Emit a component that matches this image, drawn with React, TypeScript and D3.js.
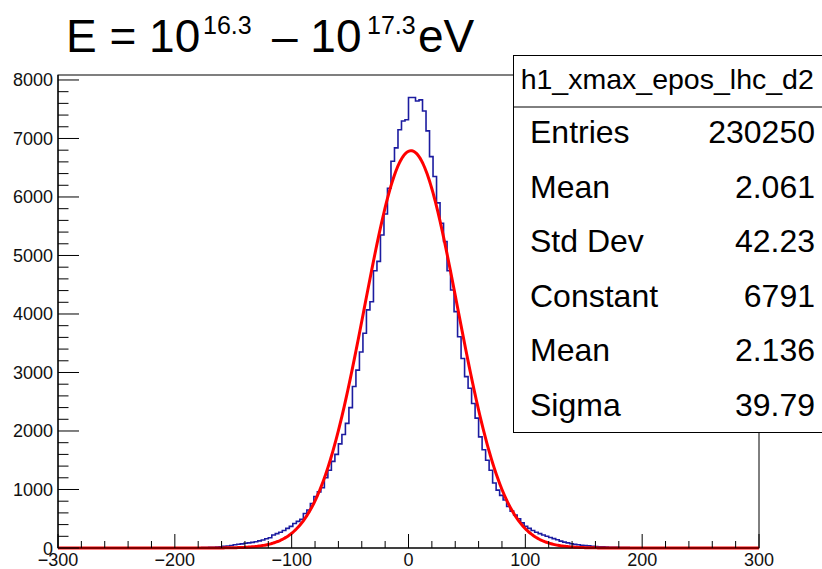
import React from 'react';
import * as d3 from 'd3';

// ---- data ----
const X_MIN = -300;
const X_MAX = 300;
const BIN_WIDTH = 3;
const Y_MAX = 8085;

// 200 bins of width 3 from -300 to 300
const counts: number[] = [
  0, 0, 0, 0, 0, 0, 0, 0, 0, 0,
  0, 0, 0, 0, 0, 0, 0, 0, 0, 0,
  0, 0, 0, 0, 0, 0, 0, 1, 0, 1,
  1, 1, 1, 2, 2, 2, 3, 3, 4, 4,
  5, 6, 8, 10, 13, 17, 22, 27, 34, 42,
  55, 63, 70, 80, 88, 97, 108, 122, 137, 158,
  175, 222, 245, 268, 300, 336, 370, 420, 455, 490,
  590, 650, 760, 880, 960, 1030, 1200, 1330, 1480, 1600,
  1780, 1940, 2130, 2400, 2760, 3040, 3350, 3670, 4070, 4210,
  4740, 4900, 5350, 5710, 6150, 6610, 6840, 7150, 7300, 7320,
  7700, 7700, 7640, 7660, 7470, 7130, 6690, 6350, 5900, 5550,
  5240, 4740, 4410, 4040, 3610, 3240, 2930, 2730, 2470, 2220,
  1900, 1680, 1500, 1330, 1110, 990, 900, 820, 710, 630,
  565, 500, 430, 370, 335, 300, 270, 245, 222, 200,
  180, 160, 140, 118, 100, 88, 72, 62, 55, 45,
  40, 36, 30, 25, 22, 19, 16, 13, 12, 10,
  8, 7, 6, 5, 4, 3, 3, 2, 2, 1,
  1, 1, 1, 0, 1, 0, 0, 0, 0, 0,
  0, 0, 0, 0, 0, 0, 0, 0, 0, 0,
  0, 0, 0, 0, 0, 0, 0, 0, 0, 0,
];

const fitConstant = 6791;
const fitMean = 2.136;
const fitSigma = 39.79;

const xMajorTicks = [-300, -200, -100, 0, 100, 200, 300];
const xTickLabels = ['\u2212300', '\u2212200', '\u2212100', '0', '100', '200', '300'];
const yMajorTicks = [0, 1000, 2000, 3000, 4000, 5000, 6000, 7000, 8000];
const yTickLabels = ['0', '1000', '2000', '3000', '4000', '5000', '6000', '7000', '8000'];

const statsTitle = 'h1_xmax_epos_lhc_d2';
const statLabels = ['Entries', 'Mean', 'Std Dev', 'Constant', 'Mean', 'Sigma'];
const statValues = ['230250', '2.061', '42.23', '6791', '2.136', '39.79'];

const FONT = '"Liberation Sans", Arial, Helvetica, sans-serif';

export default function App() {
  const W = 822;
  const H = 569;
  const left = 58, right = 759, top = 75, bottom = 548;

  const x = d3.scaleLinear().domain([X_MIN, X_MAX]).range([left, right]);
  const y = d3.scaleLinear().domain([0, Y_MAX]).range([bottom, top]);

  const pts: [number, number][] = [];
  counts.forEach((c, i) => {
    const x0 = X_MIN + i * BIN_WIDTH;
    pts.push([x0, c], [x0 + BIN_WIDTH, c]);
  });
  const line = d3.line<[number, number]>().x(d => x(d[0])).y(d => y(d[1]));
  const histPath = line(pts) || '';

  const fitPts: [number, number][] = d3.range(X_MIN, X_MAX + 0.01, 1).map(v => [
    v,
    fitConstant * Math.exp(-0.5 * ((v - fitMean) / fitSigma) ** 2),
  ]);
  const fitPath = line(fitPts) || '';

  const xMinor = d3.range(X_MIN, X_MAX + 0.01, 20).filter(v => v % 100 !== 0);
  const yMinor = d3.range(0, 8000 + 0.01, 200).filter(v => v % 1000 !== 0);

  const boxX = 513.5, boxY = 55.5, boxRight = 823, boxBottom = 432.5;
  const rowBaselines = [143, 197.5, 252, 306.5, 361, 415.5];

  return (
    <div style={{ position: 'absolute', left: 0, top: 0 }}>
      <svg width={W} height={H} style={{ display: 'block', background: '#fff' }} fontFamily={FONT}>
        <rect x={0} y={0} width={W} height={H} fill="#fff" />
        {/* frame */}
        <rect x={left} y={top} width={right - left} height={bottom - top} fill="none" stroke="#000" strokeWidth={1} />
        {/* histogram */}
        <path d={histPath} fill="none" stroke="#1c1ca0" strokeWidth={1.6} />
        {/* fit */}
        <path d={fitPath} fill="none" stroke="#ff0000" strokeWidth={3} />
        {/* axis ticks */}
        <g stroke="#000" strokeWidth={1}>
          {xMajorTicks.map(t => (
            <line key={'xM' + t} x1={x(t)} x2={x(t)} y1={bottom} y2={bottom - 14} />
          ))}
          {xMinor.map(t => (
            <line key={'xm' + t} x1={x(t)} x2={x(t)} y1={bottom} y2={bottom - 7} />
          ))}
          {yMajorTicks.map(t => (
            <line key={'yM' + t} x1={left} x2={left + 21} y1={y(t)} y2={y(t)} />
          ))}
          {yMinor.map(t => (
            <line key={'ym' + t} x1={left} x2={left + 10.5} y1={y(t)} y2={y(t)} />
          ))}
        </g>
        <line x1={left} x2={right} y1={bottom} y2={bottom} stroke="#000" strokeWidth={1.2} />
        <line x1={left} x2={left} y1={top} y2={bottom} stroke="#000" strokeWidth={1.2} />
        {/* tick labels */}
        <g fontSize={18} fill="#111">
          {xMajorTicks.map((t, i) => (
            <text key={'xl' + t} x={x(t)} y={566} textAnchor="middle">{xTickLabels[i]}</text>
          ))}
          {yMajorTicks.map((t, i) => (
            <text key={'yl' + t} x={53} y={y(t) + 6.5} textAnchor="end">{yTickLabels[i]}</text>
          ))}
        </g>
        {/* stats box */}
        <rect x={boxX} y={boxY} width={boxRight - boxX} height={boxBottom - boxY} fill="#fff" stroke="#000" strokeWidth={1} />
        <line x1={boxX} x2={boxRight} y1={107} y2={107} stroke="#000" strokeWidth={1} />
        <text x={(boxX + 821) / 2} y={89} fontSize={28.5} textAnchor="middle" fill="#000">{statsTitle}</text>
        {statLabels.map((l, i) => (
          <g key={'s' + i}>
            <text x={530} y={rowBaselines[i]} fontSize={32} fill="#000">{l}</text>
            <text x={815} y={rowBaselines[i]} fontSize={32} textAnchor="end" fill="#000">{statValues[i]}</text>
          </g>
        ))}
        {/* title */}
        <g fill="#000">
          <text x={66} y={52} fontSize={46}>E = 10</text>
          <text x={203} y={34} fontSize={25}>16.3</text>
          <text x={272} y={52} fontSize={46}>{'\u2013 10'}</text>
          <text x={367} y={34} fontSize={25}>17.3</text>
          <text x={418} y={52} fontSize={46}>eV</text>
        </g>
      </svg>
    </div>
  );
}
